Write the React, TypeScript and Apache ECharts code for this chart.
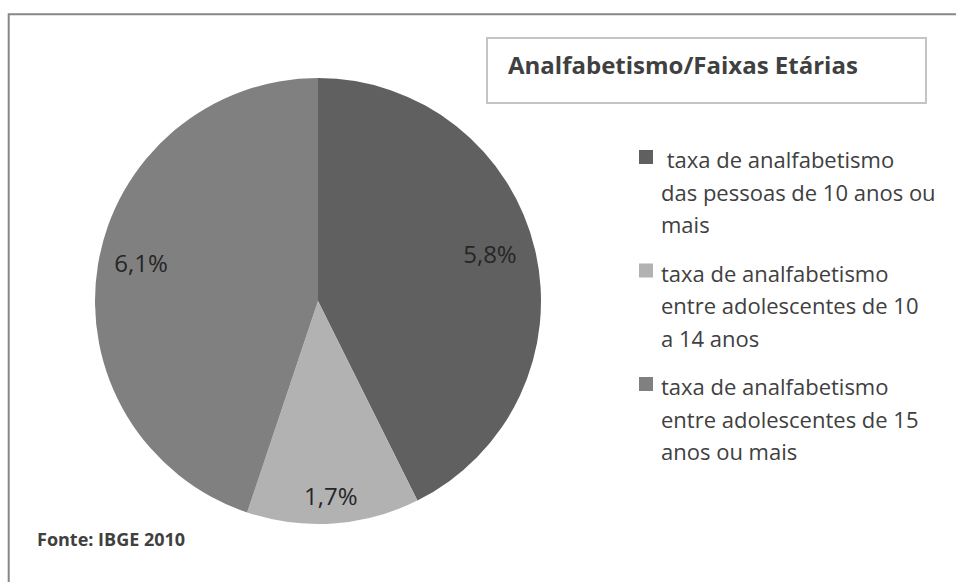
import React, { useEffect, useRef } from 'react';
import * as echarts from 'echarts';

const categories = [
  ' taxa de analfabetismo\ndas pessoas de 10 anos ou\nmais',
  'taxa de analfabetismo\nentre adolescentes de 10\na 14 anos',
  'taxa de analfabetismo\nentre adolescentes de 15\nanos ou mais',
];
const values = [5.8, 1.7, 6.1];
const sliceColors = ['#606060', '#b2b2b2', '#808080'];
const titleText = 'Analfabetismo/Faixas Etárias';
const sourceText = 'Fonte: IBGE 2010';
const labelRadiusFrac = [0.8, 0.872, 0.812];
const labelAngleShift = [-2.2, 0.2, 2.9];

const FONT = 'Open Sans';
const CX = 318;
const CY = 301;
const R = 223;

export default function App() {
  const ref = useRef<HTMLDivElement>(null);
  useEffect(() => {
    document.body.style.margin = '0';
    const chart = echarts.init(ref.current!, null, { renderer: 'svg' });
    chart.setOption({
      animation: false,
      backgroundColor: '#ffffff',
      title: [
        {
          text: titleText,
          left: 508,
          top: 52,
          padding: 0,
          textStyle: { fontFamily: FONT, fontWeight: 'bold', fontSize: 24, color: '#404040' },
        },
        {
          text: sourceText,
          left: 37,
          top: 530,
          padding: 0,
          textStyle: { fontFamily: FONT, fontWeight: 'bold', fontSize: 18, color: '#404040' },
        },
      ],
      legend: {
        orient: 'vertical',
        left: 639,
        top: 143,
        padding: 0,
        itemWidth: 17,
        itemHeight: 97.5,
        itemGap: 16,
        selectedMode: false,
        icon: 'path://M0,0L0,0M0,7H14V21H0ZM17,97.5L17,97.5',
        textStyle: { fontFamily: FONT, fontSize: 22, lineHeight: 32.5, color: '#404040' },
        data: categories,
      },
      graphic: [
        {
          type: 'polyline',
          shape: { points: [[8.7, 600], [8.7, 14.3], [970, 14.3]] },
          style: { stroke: '#878787', lineWidth: 2, fill: 'none' },
          silent: true,
        },
        {
          type: 'rect',
          shape: { x: 487, y: 38, width: 439, height: 65 },
          style: { stroke: '#c4c4c4', lineWidth: 2, fill: 'none' },
          silent: true,
        },
      ],
      series: [
        {
          type: 'pie',
          center: [CX, CY],
          radius: [0, R],
          startAngle: 90,
          clockwise: true,
          silent: true,
          itemStyle: { borderWidth: 0 },
          label: {
            show: true,
            position: 'inside',
            fontFamily: FONT,
            fontSize: 24,
            color: '#262626',
            formatter: (p: any) => String(p.value).replace('.', ',') + '%',
          },
          labelLine: { show: false },
          labelLayout: (p: any) => {
            const r = p.labelRect;
            const lx = r.x + r.width / 2;
            const ly = r.y + r.height / 2;
            const vx = lx - CX;
            const vy = ly - CY;
            const ang = Math.atan2(vx, -vy) + (labelAngleShift[p.dataIndex] * Math.PI) / 180;
            const t = labelRadiusFrac[p.dataIndex] * R;
            const nx = Math.sin(ang) * t;
            const ny = -Math.cos(ang) * t;
            return { dx: nx - vx, dy: ny - vy };
          },
          data: categories.map((name, i) => ({
            name,
            value: values[i],
            itemStyle: { color: sliceColors[i] },
          })),
        },
      ],
    });
    return () => chart.dispose();
  }, []);
  return <div ref={ref} style={{ width: 956, height: 582 }} />;
}
